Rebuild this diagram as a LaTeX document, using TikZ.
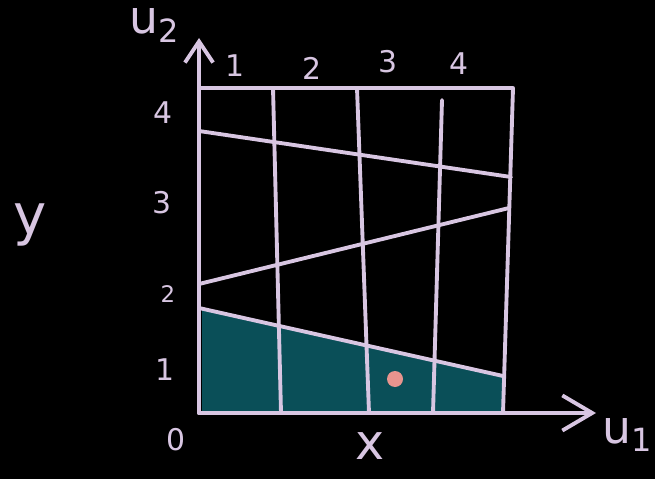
\documentclass[tikz,border=0pt]{standalone}
\usepackage{fontspec}
\setmainfont{DejaVu Sans}
\usetikzlibrary{arrows.meta}
\definecolor{chalk}{HTML}{D8C6E2}
\definecolor{region}{HTML}{0A4F58}
\definecolor{dot}{HTML}{E8948E}
\begin{document}
\begin{tikzpicture}[x=0.02cm,y=-0.02cm,
  pen/.style={draw=chalk,line width=2.2pt,line cap=round,line join=round},
  lbl/.style={text=chalk,font=\fontsize{17}{17}\selectfont,inner sep=0pt}]
  \fill[black] (0,0) rectangle (655,479);
  \useasboundingbox (0,0) rectangle (655,479);
  % shaded set
  \fill[region] (202,309) -- (503,376) -- (504,413) -- (202,413) -- cycle;
  % axes
  \coordinate (o) at (199,413);
  \coordinate (top) at (199,38);
  \coordinate (right) at (596,413);
  \draw[pen,-{Straight Barb[length=12pt,width=16pt,line width=2.2pt]}] (o) -- (top);
  \draw[pen,-{Straight Barb[length=17pt,width=20pt,line width=2.2pt]}] (o) -- (right);
  % grid
  \draw[pen] (199,88) -- (513,88) -- (503,413);
  \draw[pen] (273,88) -- (281,413);
  \draw[pen] (357,88) -- (369,413);
  \draw[pen] (442,100) -- (433,413);
  \draw[pen] (199,131) -- (511,177);
  \draw[pen] (199,284) -- (509,208);
  \draw[pen] (199,308) -- (503,376);
  % point
  \fill[dot] (395,379) circle (8);
  % labels
  \node[lbl,font=\fontsize{26}{26}\selectfont] (u2) at (155,25) {u\textsubscript{2}};
  \node[lbl,font=\fontsize{26}{26}\selectfont] (u1) at (628,435) {u\textsubscript{1}};
  \node[lbl] (c1) at (235,66) {1};
  \node[lbl] (c2) at (312,68) {2};
  \node[lbl] (c3) at (388,62) {3};
  \node[lbl] (c4) at (459,64) {4};
  \node[lbl] (r4) at (163,113) {4};
  \node[lbl] (r3) at (162,203) {3};
  \node[lbl,font=\fontsize{13}{13}\selectfont] (r2) at (168,294) {2};
  \node[lbl] (r1) at (165,370) {1};
  \node[lbl] (r0) at (176,440) {0};
  \node[lbl,font=\fontsize{32}{32}\selectfont] (y) at (30,225) {y};
  \node[lbl,font=\fontsize{28}{28}\selectfont] (x) at (370,446) {x};
\end{tikzpicture}
\end{document}
